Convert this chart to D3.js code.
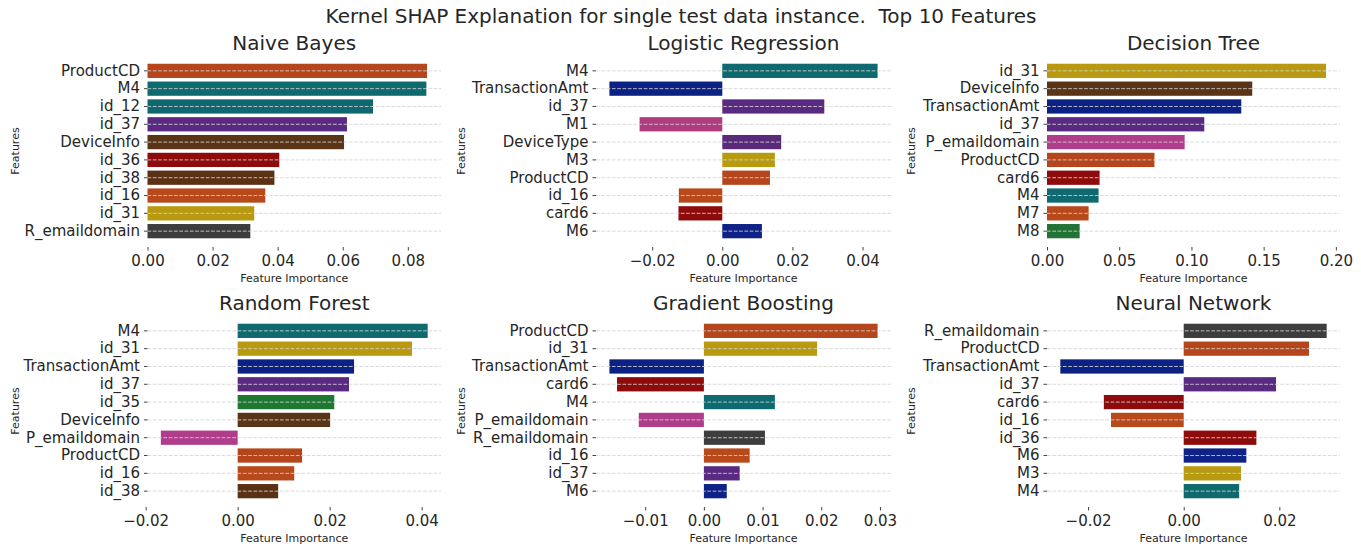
<!DOCTYPE html>
<html>
<head>
<meta charset="utf-8">
<script src="https://cdn.jsdelivr.net/npm/d3@7"></script>
<style>
body { margin: 0; background: #fff; }
text { font-family: "DejaVu Sans", sans-serif; fill: #262626; }
</style>
</head>
<body>
<div id="graphDiv"></div>
<script>
// values, top bar first
var nbFeatures = ["ProductCD", "M4", "id_12", "id_37", "DeviceInfo", "id_36", "id_38", "id_16", "id_31", "R_emaildomain"];
var nbValues = [0.0859, 0.0857, 0.0693, 0.0613, 0.0604, 0.0405, 0.0390, 0.0362, 0.0328, 0.0316];
var nbTicks = [0, 0.02, 0.04, 0.06, 0.08];

var lrFeatures = ["M4", "TransactionAmt", "id_37", "M1", "DeviceType", "M3", "ProductCD", "id_16", "card6", "M6"];
var lrValues = [0.0443, -0.0322, 0.0291, -0.0236, 0.0168, 0.0150, 0.0136, -0.0124, -0.0125, 0.0113];
var lrTicks = [-0.02, 0, 0.02, 0.04];

var dtFeatures = ["id_31", "DeviceInfo", "TransactionAmt", "id_37", "P_emaildomain", "ProductCD", "card6", "M4", "M7", "M8"];
var dtValues = [0.1932, 0.1421, 0.1345, 0.1089, 0.0953, 0.0744, 0.0364, 0.0357, 0.0288, 0.0226];
var dtTicks = [0, 0.05, 0.10, 0.15, 0.20];

var rfFeatures = ["M4", "id_31", "TransactionAmt", "id_37", "id_35", "DeviceInfo", "P_emaildomain", "ProductCD", "id_16", "id_38"];
var rfValues = [0.0413, 0.0379, 0.0253, 0.0242, 0.0210, 0.0201, -0.0167, 0.0140, 0.0123, 0.0088];
var rfTicks = [-0.02, 0, 0.02, 0.04];

var gbFeatures = ["ProductCD", "id_31", "TransactionAmt", "card6", "M4", "P_emaildomain", "R_emaildomain", "id_16", "id_37", "M6"];
var gbValues = [0.0296, 0.0193, -0.0161, -0.0148, 0.0121, -0.0111, 0.0104, 0.0078, 0.0061, 0.0039];
var gbTicks = [-0.01, 0, 0.01, 0.02, 0.03];

var nnFeatures = ["R_emaildomain", "ProductCD", "TransactionAmt", "id_37", "card6", "id_16", "id_36", "M6", "M3", "M4"];
var nnValues = [0.0299, 0.0262, -0.0258, 0.0193, -0.0167, -0.0152, 0.0152, 0.0131, 0.0120, 0.0116];
var nnTicks = [-0.02, 0, 0.02];

var panelTitles = ["Naive Bayes", "Logistic Regression", "Decision Tree", "Random Forest", "Gradient Boosting", "Neural Network"];

// one colour per feature
var featureColor = {
  ProductCD: "#b5461c", M4: "#0e6a6e", id_12: "#0f6870", id_37: "#5a2a82", DeviceInfo: "#5a3416",
  id_36: "#8e0b0c", id_38: "#5a3113", id_16: "#b8491b", id_31: "#b8990f", R_emaildomain: "#3d3d3d",
  TransactionAmt: "#0c2184", M1: "#b03c80", DeviceType: "#5a2a7a", M3: "#b89a10", card6: "#8e0b0c",
  M6: "#0e2288", P_emaildomain: "#b03c8c", M7: "#b8491b", M8: "#217433", id_35: "#1f7831"
};

var panels = [
  {f: nbFeatures, v: nbValues, t: nbTicks},
  {f: lrFeatures, v: lrValues, t: lrTicks},
  {f: dtFeatures, v: dtValues, t: dtTicks},
  {f: rfFeatures, v: rfValues, t: rfTicks},
  {f: gbFeatures, v: gbValues, t: gbTicks},
  {f: nnFeatures, v: nnValues, t: nnTicks}
];

var W = 1361, H = 550;
var colLeft = [147.5, 596, 1047], colRight = [441, 891, 1340];
var rowTop = [55, 315], rowBottom = [247, 507];
var ylabelX = [19, 465, 915];

var svg = d3.select("#graphDiv")
  .append("svg")
  .attr("width", W)
  .attr("height", H);

svg.append("text")
  .attr("x", 681)
  .attr("y", 23)
  .attr("text-anchor", "middle")
  .style("font-size", "20px")
  .style("white-space", "pre")
  .text("Kernel SHAP Explanation for single test data instance.  Top 10 Features");

panels.forEach(function(p, i) {
  var c = i % 3, r = Math.floor(i / 3);
  var x0 = colLeft[c], x1 = colRight[c], y0 = rowTop[r], y1 = rowBottom[r];

  // matplotlib-like limits: 5% margin, sticky at zero
  var lo = Math.min(0, d3.min(p.v)), hi = Math.max(0, d3.max(p.v));
  var pad = (hi - lo) * 0.05;
  var x = d3.scaleLinear()
    .domain([lo < 0 ? lo - pad : 0, hi + pad])
    .range([x0, x1]);

  var y = d3.scaleBand()
    .domain(p.f)
    .range([y0, y1])
    .paddingInner(0.2)
    .paddingOuter(0.49);

  var g = svg.append("g");

  // bars
  g.selectAll("rect")
    .data(p.f)
    .enter()
    .append("rect")
    .attr("x", function(d, k) { return x(Math.min(0, p.v[k])); })
    .attr("width", function(d, k) { return Math.abs(x(p.v[k]) - x(0)); })
    .attr("y", function(d) { return y(d); })
    .attr("height", y.bandwidth())
    .attr("fill", function(d) { return featureColor[d]; });

  // dashed grid over the bars
  g.selectAll("line.grid")
    .data(p.f)
    .enter()
    .append("line")
    .attr("class", "grid")
    .attr("x1", x0)
    .attr("x2", x1)
    .attr("y1", function(d) { return y(d) + y.bandwidth() / 2; })
    .attr("y2", function(d) { return y(d) + y.bandwidth() / 2; })
    .attr("stroke", "#d4d4d4")
    .attr("stroke-opacity", 0.85)
    .attr("stroke-dasharray", "3.7,1.6");

  // x axis
  var xa = g.append("g")
    .attr("transform", "translate(0," + y1 + ")")
    .call(d3.axisBottom(x).tickValues(p.t).tickFormat(d3.format(".2f")).tickSize(3.5).tickSizeOuter(0).tickPadding(4));
  xa.select(".domain").remove();
  xa.selectAll("line").attr("stroke", "#444");
  xa.selectAll("text").style("font-size", "15px").attr("fill", "#262626").attr("dy", "0.75em");

  // y axis
  var ya = g.append("g")
    .attr("transform", "translate(" + x0 + ",0)")
    .call(d3.axisLeft(y).tickSize(3.5).tickSizeOuter(0).tickPadding(4));
  ya.select(".domain").remove();
  ya.selectAll("line").attr("stroke", "#444");
  ya.selectAll("text").style("font-size", "15px").attr("fill", "#262626");

  // titles and labels
  g.append("text")
    .attr("x", (x0 + x1) / 2)
    .attr("y", y0 - 5)
    .attr("text-anchor", "middle")
    .style("font-size", "20px")
    .text(panelTitles[i]);

  g.append("text")
    .attr("x", (x0 + x1) / 2)
    .attr("y", y1 + 35)
    .attr("text-anchor", "middle")
    .style("font-size", "11px")
    .text("Feature Importance");

  g.append("text")
    .attr("transform", "translate(" + ylabelX[c] + "," + ((y0 + y1) / 2) + ")rotate(-90)")
    .attr("text-anchor", "middle")
    .style("font-size", "11px")
    .text("Features");
});
</script>
</body>
</html>
